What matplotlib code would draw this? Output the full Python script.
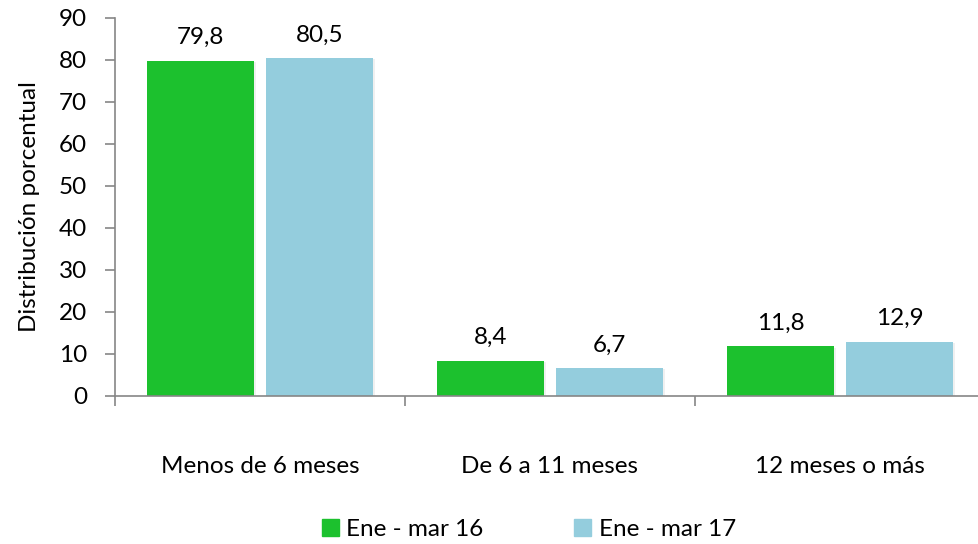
import numpy as np
import matplotlib.pyplot as plt
import matplotlib.patheffects as pe
from matplotlib.patches import Patch

plt.rcParams['font.family'] = ['Lato', 'DejaVu Sans']

categorias = ['Menos de 6 meses', 'De 6 a 11 meses', '12 meses o más']
ene_mar_16 = [79.8, 8.4, 11.8]
ene_mar_17 = [80.5, 6.7, 12.9]
series = ['Ene - mar 16', 'Ene - mar 17']
colores = ['#1CC12E', '#94CDDD']
gris = '#868686'
fs = 17.5

fig = plt.figure(figsize=(9.79, 5.44), dpi=100)
ax = fig.add_axes([115 / 979, 148 / 544, 870 / 979, 378 / 544])

x = np.arange(len(categorias))
ancho = 0.37
sombra = [pe.SimplePatchShadow(offset=(1.5, -1), shadow_rgbFace='#000000', alpha=0.06), pe.Normal()]

for i, (vals, col) in enumerate(zip([ene_mar_16, ene_mar_17], colores)):
    pos = x + (i - 0.5) * 0.41
    barras = ax.bar(pos, vals, width=ancho, color=col, zorder=2)
    for b in barras:
        b.set_path_effects(sombra)
    for p, v in zip(pos, vals):
        ax.annotate(f'{v:.1f}'.replace('.', ','), (p, v), xytext=(0, 9),
                    textcoords='offset points', ha='center', va='bottom', fontsize=fs)

ax.set_xlim(-0.5, 2.5)
ax.set_ylim(0, 90)
ax.set_yticks(range(0, 91, 10))
ax.set_xticks(x)
ax.set_xticklabels(categorias, fontsize=fs)
ax.set_xticks([-0.5, 0.5, 1.5, 2.5], minor=True)
ax.tick_params(axis='x', which='major', length=0, pad=43)
ax.tick_params(axis='x', which='minor', length=7, color=gris, width=1.2)
ax.tick_params(axis='y', length=7, color=gris, width=1.2, labelsize=fs, pad=13)
ax.set_ylabel('Distribución porcentual', fontsize=fs, labelpad=14)

for s in ['top', 'right']:
    ax.spines[s].set_visible(False)
for s in ['left', 'bottom']:
    ax.spines[s].set_color(gris)
    ax.spines[s].set_linewidth(1.2)

handles = [Patch(color=c, label=s) for c, s in zip(colores, series)]
fig.legend(handles=handles, loc='center', bbox_to_anchor=(0.54, 0.026), ncol=2,
           frameon=False, fontsize=fs, handlelength=0.7, handleheight=0.7,
           handletextpad=0.3, columnspacing=3.75)

fig.savefig('out.png', dpi=100)
